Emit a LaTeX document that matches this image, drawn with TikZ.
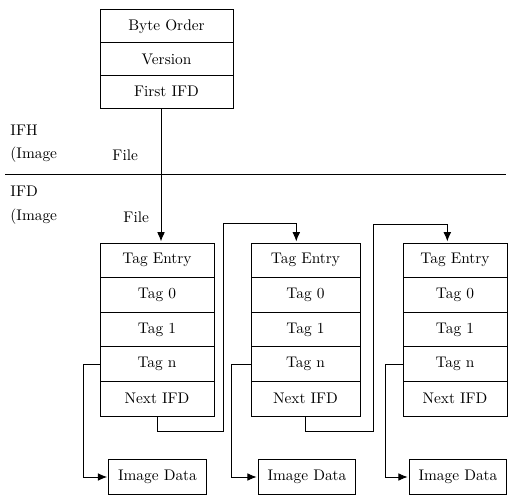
\documentclass[tikz,border=0pt]{standalone}
\usetikzlibrary{arrows.meta,shapes}

\begin{document}
\begin{tikzpicture}[>={Latex[length=6pt,width=5pt]}, shorten >=1pt, x=0.65pt, y=-0.65pt, semithick]
  \tikzstyle{every cell}=[draw=black, rectangle, inner sep=0pt, outer sep=0pt, minimum height=22.5pt]
  \tikzstyle{hdr}=[every cell, minimum width=86.5pt, minimum height=21.25pt]
  \tikzstyle{ifdA}=[every cell, minimum width=74.1pt]
  \tikzstyle{ifdB}=[every cell, minimum width=70.9pt]
  \tikzstyle{ifdC}=[every cell, minimum width=67.6pt]
  \tikzstyle{imgbox}=[every cell, minimum width=63.5pt, minimum height=22.75pt]
  \tikzstyle{lbl}=[anchor=west, inner sep=0pt]

  \useasboundingbox (0,0) rectangle (508,495);

	% header
	\node[hdr]	(bo)	at (166.5,26.3)		{Byte Order};
	\node[hdr]	(ver)	at (166.5,59)		{Version};
	\node[hdr]	(fi)	at (166.5,91.7)		{First IFD};

	\node[lbl]	(ifh)	at (10,130)		{IFH};
	\node[lbl]	(im1)	at (10,155)		{(Image};
	\node[lbl]	(fl1)	at (112,155)	{File};
	\node[lbl]	(ifd)	at (10,191)		{IFD};
	\node[lbl]	(im2)	at (10,217)		{(Image};
	\node[lbl]	(fl2)	at (123,217)	{File};

	\coordinate (sepl) at (5,174.5);
	\coordinate (sepr) at (508,174.5);
	\draw[thick] (sepl) -- (sepr);

	% IFD 1
	\node[ifdA]	(te1)	at (157,260.3)	{Tag Entry};
	\node[ifdA]	(t01)	at (157,294.9)	{Tag 0};
	\node[ifdA]	(t11)	at (157,329.5)	{Tag 1};
	\node[ifdA]	(tn1)	at (157,364.1)	{Tag n};
	\node[ifdA]	(nx1)	at (157,398.7)	{Next IFD};

	% IFD 2
	\node[ifdB]	(te2)	at (305.5,260.3)	{Tag Entry};
	\node[ifdB]	(t02)	at (305.5,294.9)	{Tag 0};
	\node[ifdB]	(t12)	at (305.5,329.5)	{Tag 1};
	\node[ifdB]	(tn2)	at (305.5,364.1)	{Tag n};
	\node[ifdB]	(nx2)	at (305.5,398.7)	{Next IFD};

	% IFD 3
	\node[ifdC]	(te3)	at (455,260.3)	{Tag Entry};
	\node[ifdC]	(t03)	at (455,294.9)	{Tag 0};
	\node[ifdC]	(t13)	at (455,329.5)	{Tag 1};
	\node[ifdC]	(tn3)	at (455,364.1)	{Tag n};
	\node[ifdC]	(nx3)	at (455,398.7)	{Next IFD};

	\node[imgbox]	(img1)	at (157.5,477)	{Image Data};
	\node[imgbox]	(img2)	at (307,477)	{Image Data};
	\node[imgbox]	(img3)	at (458,477)	{Image Data};

	\draw[->] ([xshift=2.6pt]fi.south -| te1.north) -- ([xshift=2.6pt]te1.north);
	\draw[->] (nx1.south) -- ++(0,15) -| (223,223) -| ([xshift=-6pt]te2.north);
	\draw[->] (nx2.south) -- ++(0,15) -| (373,224) -| ([xshift=-5pt]te3.north);
	\draw[->] (tn1.west) -- ++(-17,0) |- (img1.west);
	\draw[->] (tn2.west) -- ++(-20,0) |- (img2.west);
	\draw[->] (tn3.west) -- ++(-18,0) |- (img3.west);

\end{tikzpicture}
\end{document}
